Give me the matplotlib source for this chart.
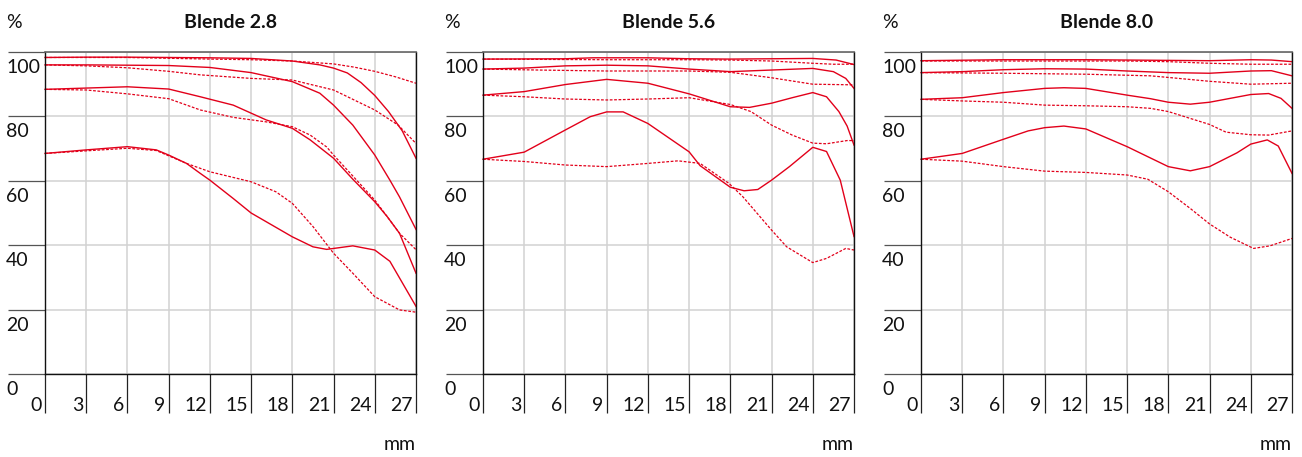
import numpy as np
import matplotlib.pyplot as plt

plt.rcParams['font.family'] = ['Lato', 'DejaVu Sans']

# MTF-Kurven: durchgezogen / gestrichelt, 4 Ortsfrequenzen je Blende
titles = ["Blende 2.8", "Blende 5.6", "Blende 8.0"]
x_ticks = [0, 3, 6, 9, 12, 15, 18, 21, 24, 27]
y_ticks = [0, 20, 40, 60, 80, 100]

# ---- Blende 2.8 ----
b28_s1_x = [0, 3, 6, 9, 12, 15, 18, 20, 21, 22, 23, 24, 25, 26, 27]
b28_s1_y = [98.3, 98.4, 98.4, 98.3, 98.2, 98.0, 97.2, 96.0, 95.0, 93.5, 90.5, 86.5, 81.5, 75.5, 67.0]
b28_d1_x = [0, 6, 12, 15, 18, 21, 22.5, 24, 25.5, 27]
b28_d1_y = [98.3, 98.3, 97.8, 97.6, 97.2, 96.3, 95.3, 94.0, 92.3, 90.3]
b28_s2_x = [0, 3, 6, 9, 12, 15, 18, 20, 21, 22.4, 24, 25.1, 25.8, 27]
b28_s2_y = [96.0, 96.0, 95.9, 95.8, 95.2, 93.6, 90.8, 87.2, 83.5, 77.3, 68.0, 60.2, 55.0, 44.9]
b28_d2_x = [0, 3, 6, 9, 11.3, 15, 18, 21, 24, 25.7, 27]
b28_d2_y = [96.0, 95.7, 95.1, 94.0, 92.9, 91.8, 91.3, 88.2, 82.0, 77.3, 71.6]
b28_s3_x = [0, 3, 6, 9, 11.3, 13.7, 16.1, 18, 19.3, 21, 22.4, 24, 24.9, 25.8, 27]
b28_s3_y = [88.4, 88.8, 89.2, 88.5, 86.1, 83.5, 78.9, 76.3, 72.7, 67.0, 60.5, 53.5, 48.9, 43.7, 31.3]
b28_d3_x = [0, 3, 6, 9, 11.3, 13.7, 16.1, 18, 19.3, 20.5, 21, 22.4, 24, 24.9, 25.8, 27]
b28_d3_y = [88.4, 88.2, 87.0, 85.5, 82.0, 79.7, 78.3, 76.8, 74.2, 70.5, 68.0, 61.5, 54.0, 48.9, 43.7, 38.6]
b28_s4_x = [0, 3, 6, 8.1, 9, 10.3, 11.3, 12, 13.7, 15, 18, 19.5, 20.5, 22.4, 24, 25.1, 27]
b28_s4_y = [68.5, 69.6, 70.6, 69.6, 68.0, 65.4, 62.3, 60.2, 54.5, 50.0, 42.6, 39.5, 38.7, 39.8, 38.5, 35.0, 21.0]
b28_d4_x = [0, 3, 6, 8.1, 10.3, 12, 15, 16.8, 18, 19.5, 21, 22.4, 24, 25.8, 27]
b28_d4_y = [68.5, 69.3, 70.1, 69.4, 65.4, 62.8, 59.7, 56.6, 53.0, 45.8, 37.5, 31.3, 24.0, 19.9, 19.2]

# ---- Blende 5.6 ----
b56_s1_x = [0, 6, 8, 12, 15, 18, 21, 24, 25.7, 27]
b56_s1_y = [97.8, 97.9, 98.2, 98.2, 97.9, 97.8, 97.9, 98.0, 97.5, 96.1]
b56_d1_x = [0, 9, 15, 18, 21, 24, 25.5, 27]
b56_d1_y = [97.8, 97.6, 97.6, 97.5, 97.2, 96.5, 96.2, 96.2]
b56_s2_x = [0, 3, 6, 9, 12, 15, 18, 21, 24, 25.5, 26.4, 27]
b56_s2_y = [94.7, 95.0, 95.7, 95.9, 95.7, 94.7, 93.9, 94.4, 94.9, 93.9, 91.8, 88.7]
b56_d2_x = [0, 4, 9, 15, 18, 21, 24, 27]
b56_d2_y = [94.7, 94.4, 94.1, 94.1, 93.7, 92.0, 90.0, 89.8]
b56_s3_x = [0, 3, 6, 9, 12, 15, 18, 19.4, 21, 22.5, 24, 25, 25.9, 26.5, 27]
b56_s3_y = [86.6, 87.7, 89.9, 91.5, 90.3, 87.0, 83.0, 82.8, 84.1, 85.8, 87.4, 86.1, 81.5, 77.0, 71.1]
b56_d3_x = [0, 3, 6, 9, 12, 15, 18, 19.5, 21, 22.5, 24, 25, 26.5, 27]
b56_d3_y = [86.6, 86.1, 85.4, 85.1, 85.4, 85.8, 83.7, 81.5, 77.3, 74.2, 71.7, 71.5, 72.5, 72.5]
b56_s4_x = [0, 3, 6, 7.8, 9, 10.2, 12, 15, 15.8, 18, 19, 20, 21, 22.3, 24, 25, 26, 27]
b56_s4_y = [66.7, 68.9, 75.8, 79.9, 81.4, 81.4, 77.8, 69.0, 64.7, 58.0, 56.9, 57.3, 60.2, 64.4, 70.4, 69.1, 60.2, 42.7]
b56_d4_x = [0, 3, 6, 9, 12, 14.2, 15.8, 17.9, 18.9, 21, 22.1, 24, 25, 26.4, 27]
b56_d4_y = [66.7, 66.0, 64.9, 64.4, 65.4, 66.2, 65.4, 59.2, 55.1, 44.7, 39.5, 34.6, 35.9, 39.0, 38.5]

# ---- Blende 8.0 ----
b80_s1_x = [0, 6, 12, 18, 21, 24, 25.5, 27]
b80_s1_y = [97.3, 97.6, 97.6, 97.4, 97.3, 97.6, 97.5, 97.0]
b80_d1_x = [0, 9, 15, 18, 21, 24, 27]
b80_d1_y = [97.2, 97.2, 97.2, 97.0, 96.5, 96.2, 96.2]
b80_s2_x = [0, 3, 6, 9, 12, 15, 18, 21, 24, 25.5, 27]
b80_s2_y = [93.6, 93.9, 94.5, 94.8, 94.7, 94.1, 93.6, 93.4, 94.1, 94.2, 92.6]
b80_d2_x = [0, 6, 12, 16.7, 18, 21, 24, 27]
b80_d2_y = [93.6, 93.4, 93.1, 92.6, 92.1, 90.9, 90.0, 90.3]
b80_s3_x = [0, 3, 6, 9, 10.4, 12, 15, 16.7, 18, 19.6, 21, 24, 25.3, 26.2, 27]
b80_s3_y = [85.3, 85.8, 87.4, 88.7, 88.9, 88.7, 86.6, 85.5, 84.4, 83.8, 84.4, 86.8, 87.1, 85.6, 82.5]
b80_d3_x = [0, 3, 6, 9, 12, 15, 16.7, 18, 21, 22.2, 24, 25.3, 27]
b80_d3_y = [85.3, 84.8, 84.4, 83.5, 83.3, 83.0, 82.5, 81.5, 77.5, 75.1, 74.3, 74.2, 75.5]
b80_s4_x = [0, 3, 6, 7.8, 9, 10.4, 12, 15, 18, 19.6, 21, 23, 24, 25.2, 26, 27]
b80_s4_y = [66.7, 68.5, 72.9, 75.5, 76.5, 77.0, 76.1, 70.6, 64.4, 63.1, 64.4, 68.7, 71.4, 72.7, 70.8, 62.3]
b80_d4_x = [0, 3, 6, 9, 12, 15, 16.5, 18, 19.6, 21, 22.5, 24.2, 25.4, 27]
b80_d4_y = [66.7, 66.1, 64.4, 63.0, 62.6, 61.8, 60.5, 56.6, 51.4, 46.6, 42.5, 39.0, 39.8, 42.1]

solid = [
    [(b28_s1_x, b28_s1_y), (b28_s2_x, b28_s2_y), (b28_s3_x, b28_s3_y), (b28_s4_x, b28_s4_y)],
    [(b56_s1_x, b56_s1_y), (b56_s2_x, b56_s2_y), (b56_s3_x, b56_s3_y), (b56_s4_x, b56_s4_y)],
    [(b80_s1_x, b80_s1_y), (b80_s2_x, b80_s2_y), (b80_s3_x, b80_s3_y), (b80_s4_x, b80_s4_y)],
]
dashed = [
    [(b28_d1_x, b28_d1_y), (b28_d2_x, b28_d2_y), (b28_d3_x, b28_d3_y), (b28_d4_x, b28_d4_y)],
    [(b56_d1_x, b56_d1_y), (b56_d2_x, b56_d2_y), (b56_d3_x, b56_d3_y), (b56_d4_x, b56_d4_y)],
    [(b80_d1_x, b80_d1_y), (b80_d2_x, b80_d2_y), (b80_d3_x, b80_d3_y), (b80_d4_x, b80_d4_y)],
]

W, H = 1302, 457
fig = plt.figure(figsize=(W / 100, H / 100), dpi=100)

red = '#e2001a'
lefts = [45, 483, 921]  # pixel
ax_w = 371
top, bottom = 52, 374
fs = 14

for i in range(3):
    ax = fig.add_axes([lefts[i] / W, (H - bottom) / H, ax_w / W, (bottom - top) / H])
    ax.set_xlim(0, 27)
    ax.set_ylim(0, 100)
    ax.set_xticks(x_ticks)
    ax.set_yticks(y_ticks)
    ax.grid(True, color='#d2d2d2', lw=1.1)
    ax.set_axisbelow(True)
    ax.tick_params(axis='x', length=28, width=0.9, color='#222222', direction='out',
                   labelbottom=False)
    ax.tick_params(axis='y', length=26.6, width=0.9, color='#555555', direction='out',
                   labelleft=False)
    for s in ['left', 'right', 'bottom']:
        ax.spines[s].set_color('#111111')
        ax.spines[s].set_linewidth(1.0)
    ax.spines['top'].set_color('#666666')
    ax.spines['top'].set_linewidth(1.2)

    for (xs, ys) in dashed[i]:
        ax.plot(xs, ys, color=red, lw=0.9, linestyle=(0, (2.2, 1.3)), clip_on=False)
    for (xs, ys) in solid[i]:
        ax.plot(xs, ys, color=red, lw=1.0, clip_on=False)

    for v in x_ticks:
        ax.annotate(str(v), xy=(v, 0), xycoords=('data', 'axes fraction'),
                    xytext=(-3, -37), textcoords='offset pixels',
                    ha='right', va='baseline', fontsize=fs, color='#111111')
    for v in y_ticks:
        ax.annotate(str(v), xy=(0, v), xycoords=('axes fraction', 'data'),
                    xytext=(-39, -21), textcoords='offset pixels',
                    ha='left', va='baseline', fontsize=fs, color='#111111')

    ax.annotate('%', xy=(0, 1), xycoords='axes fraction', xytext=(-39, 24),
                textcoords='offset pixels', ha='left', va='baseline', fontsize=fs,
                color='#111111')
    ax.annotate(titles[i], xy=(0.5, 1), xycoords='axes fraction', xytext=(0, 24),
                textcoords='offset pixels', ha='center', va='baseline', fontsize=fs,
                fontweight='bold', color='#111111')
    ax.annotate('mm', xy=(1, 0), xycoords='axes fraction', xytext=(0, -76),
                textcoords='offset pixels', ha='right', va='baseline', fontsize=fs,
                color='#111111')

plt.savefig('out.png', dpi=100)
